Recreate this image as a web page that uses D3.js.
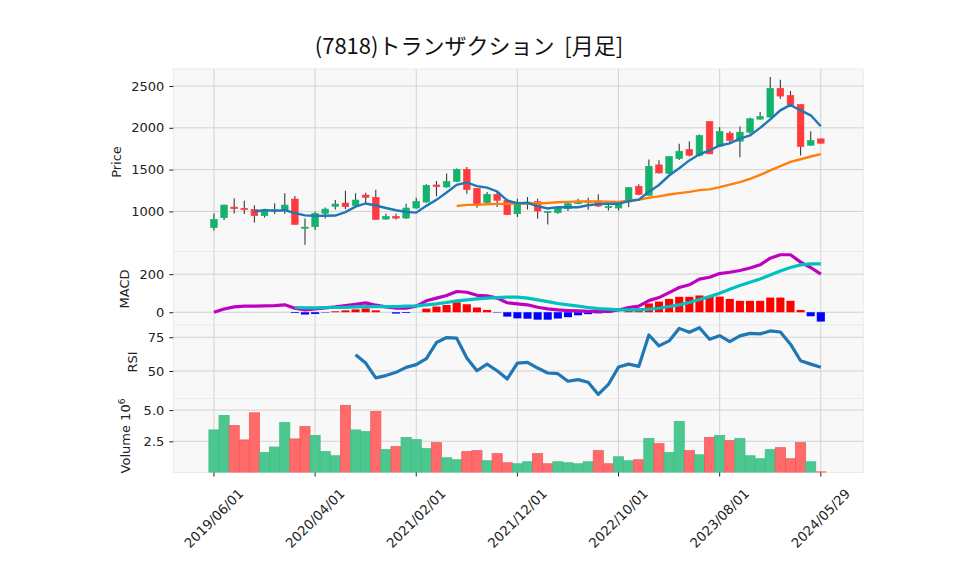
<!DOCTYPE html>
<html><head><meta charset="utf-8">
<script src="https://cdn.jsdelivr.net/npm/d3@7"></script>
<style>
html,body{margin:0;padding:0;background:#fff;}
svg{display:block;}
</style></head>
<body>
<svg id="chart" width="958" height="575"></svg>
<script>
// ---- data (monthly bars, index 0 = 2019/06, index 60 = 2024/05/29) ----
const tickIndex  = [0, 10, 20, 30, 40, 50, 60];
const tickLabels = ["2019/06/01","2020/04/01","2021/02/01","2021/12/01","2022/10/01","2023/08/01","2024/05/29"];

const open  = [805,924,1052,1036,1024,948,1004,1008,1148,808,816,976,1060,1100,1072,1196,1168,908,940,920,1040,1112,1316,1292,1360,1504,1276,1104,1204,1132,972,1092,1116,988,984,1032,1092,1108,1124,1048,1040,1112,1300,1192,1556,1456,1632,1740,1668,2076,1780,1936,1840,1948,2104,2128,2472,2388,2280,1792,1868];
const high  = [975,1080,1156,1128,1072,1024,1096,1216,1184,916,996,1048,1136,1248,1216,1224,1260,972,972,1092,1164,1324,1364,1452,1512,1532,1276,1232,1232,1152,1152,1172,1152,1000,1052,1100,1152,1164,1204,1092,1100,1292,1324,1620,1612,1660,1808,1840,1920,2076,2008,1960,2016,2120,2188,2608,2576,2440,2280,1960,1870];
const low   = [770,896,976,968,868,928,968,972,844,600,776,916,1024,1028,1056,1096,900,900,904,912,1032,1104,1180,1284,1352,1212,1044,1100,1052,960,932,1024,912,844,972,1004,1084,1020,1052,1012,1012,1052,1192,1192,1452,1448,1616,1656,1656,1688,1776,1808,1648,1928,2096,2128,2348,2248,1668,1788,1808];
const close = [904,1076,1032,1020,948,1008,1020,1076,844,812,976,1028,1088,1056,1136,1168,904,940,920,1040,1120,1312,1296,1360,1504,1260,1092,1204,1132,960,1100,1112,1004,1000,1040,1092,1116,1124,1064,1058,1092,1284,1204,1540,1460,1656,1720,1672,1908,1688,1956,1848,1948,2108,2136,2472,2380,2276,1776,1848,1816];
// volume in millions (x10^6)
const volume = [3.41,4.57,3.76,2.61,4.78,1.59,2.04,4.0,2.69,3.68,2.96,1.67,1.34,5.38,3.41,3.28,4.89,1.83,2.07,2.80,2.63,1.91,2.39,1.18,1.02,1.67,1.75,0.94,1.51,0.78,0.70,0.86,1.51,0.70,0.86,0.78,0.70,0.86,1.75,0.70,1.26,0.94,1.02,2.72,2.31,1.59,4.09,1.75,1.42,2.80,2.96,2.55,2.72,1.34,1.10,1.83,1.99,1.10,2.39,0.86,0.05];

// moving averages (5 and 25 months), values start at index 4 and 24
const ma5Start = 4;
const ma5 = [996,1017,1006,1014,979,952,946,947,950,992,1057,1095,1070,1041,1014,994,985,1066,1138,1226,1318,1346,1302,1284,1238,1130,1098,1102,1062,1035,1051,1050,1050,1074,1087,1091,1091,1124,1140,1236,1316,1429,1516,1610,1683,1729,1789,1814,1870,1910,1999,2102,2209,2274,2208,2150,2019];
const ma25Start = 24;
const ma25 = [1064,1078,1078,1085,1090,1090,1094,1098,1094,1101,1110,1114,1118,1119,1120,1117,1114,1129,1140,1164,1180,1202,1218,1233,1255,1263,1290,1321,1350,1389,1436,1491,1542,1593,1624,1657,1686];

// MACD panel
const macd = [0,17,28,32,32,33,35,39,21,12,17,23,28,35,42,49,37,28,21,21,32,60,74,88,109,105,89,86,74,50,44,39,26,18,12,9,7,5,5,4,12,25,32,61,77,103,130,144,174,184,203,210,219,232,249,284,302,302,263,235,200];
const signalStart = 8;
const signal = [25,23,23,25,25,26,28,30,30,30,30,32,33,39,44,51,60,65,70,74,77,79,79,74,65,56,46,39,32,25,19,16,12,12,12,16,21,30,39,51,67,82,100,121,140,158,175,196,217,235,249,254,254];
const histStart = 8;
const hist = [-4,-12,-9,-2,5,10,15,20,10,0,-7,-4,0,19,30,38,52,42,25,12,-2,-23,-32,-34,-39,-39,-33,-26,-16,-10,-6,-3,0,10,20,46,56,70,81,81,88,82,82,70,60,60,60,77,77,60,12,-21,-49];

// RSI panel
const rsiStart = 14;
const rsi = [62.0,55.9,44.9,46.6,49.0,52.7,54.7,59.1,71.1,74.8,74.3,59.6,50.2,55.1,50.2,44.1,55.9,56.4,52.2,48.5,48.0,42.4,43.6,41.7,32.6,40.0,52.9,55.1,53.4,76.7,68.6,72.3,81.6,78.7,82.1,73.5,76.2,71.8,76.0,77.9,77.5,79.7,78.9,69.9,57.6,55.1,52.7];

const priceTicks = [1000,1500,2000,2500];
const macdTicks = [0,200];
const rsiTicks = [50,75];
const volTicks = [2.5,5.0];

const title = "(7818)トランザクション  [月足]";

// ---- layout ----
const svg = d3.select("#chart");
const L = 173.3, R = 863.3;
const panels = {
  price:{top:69, bottom:251.5},
  macd:{top:251.5, bottom:325},
  rsi:{top:325, bottom:398.5},
  vol:{top:398.5, bottom:472.5}
};
const n = close.length;
const x = d3.scaleLinear().domain([-4.02, 64.2]).range([L, R]);
const step = x(1) - x(0);

const yP = d3.scaleLinear().domain([520, 2704]).range([panels.price.bottom, panels.price.top]);
const yM = d3.scaleLinear().domain([-67, 319]).range([panels.macd.bottom, panels.macd.top]);
const yR = d3.scaleLinear().domain([29.6, 84.1]).range([panels.rsi.bottom, panels.rsi.top]);
const yV = d3.scaleLinear().domain([0, 5.93]).range([panels.vol.bottom, panels.vol.top]);

const UP = "#13b36b", DOWN = "#ff3a3f";
const VUP = "#4cc790", VDOWN = "#ff6b6b";
const GRID = "#d2d2d2";
const FONT = "DejaVu Sans, sans-serif";

const defs = svg.append("defs");
Object.entries(panels).forEach(([k,p])=>{
  defs.append("clipPath").attr("id","clip-"+k).append("rect")
    .attr("x",L).attr("y",p.top).attr("width",R-L).attr("height",p.bottom-p.top);
});

function panel(key, yScale, ticks, fmt){
  const p = panels[key];
  const g = svg.append("g");
  g.append("rect").attr("x",L).attr("y",p.top).attr("width",R-L).attr("height",p.bottom-p.top)
    .attr("fill","#f8f8f8").attr("stroke","#ebebeb").attr("stroke-width",1);
  g.selectAll("line.vg").data(tickIndex).join("line")
    .attr("x1",d=>x(d)).attr("x2",d=>x(d)).attr("y1",p.top).attr("y2",p.bottom)
    .attr("stroke",GRID).attr("stroke-width",1);
  g.selectAll("line.hg").data(ticks).join("line")
    .attr("x1",L).attr("x2",R).attr("y1",d=>yScale(d)).attr("y2",d=>yScale(d))
    .attr("stroke",GRID).attr("stroke-width",1);
  const ax = d3.axisLeft(yScale).tickValues(ticks).tickFormat(fmt).tickSize(4).tickPadding(5);
  const ag = svg.append("g").attr("transform",`translate(${L},0)`).call(ax);
  ag.select(".domain").remove();
  ag.selectAll("text").attr("font-family",FONT).attr("font-size","13px").attr("fill","#222");
  ag.selectAll("line").attr("stroke","#222");
  return g;
}

panel("price", yP, priceTicks, d3.format("d"));
panel("macd", yM, macdTicks, d3.format("d"));
panel("rsi", yR, rsiTicks, d3.format("d"));
panel("vol", yV, volTicks, d3.format(".1f"));

// ---- candles ----
const idx = d3.range(n);
const gc = svg.append("g").attr("clip-path","url(#clip-price)");
gc.selectAll("line.wick").data(idx).join("line")
  .attr("x1",i=>x(i)).attr("x2",i=>x(i))
  .attr("y1",i=>yP(high[i])).attr("y2",i=>yP(low[i]))
  .attr("stroke","#3a3a3a").attr("stroke-width",1.1);
const bw = step*0.66;
gc.selectAll("rect.body").data(idx).join("rect")
  .attr("x",i=>x(i)-bw/2).attr("width",bw)
  .attr("y",i=>yP(Math.max(open[i],close[i])))
  .attr("height",i=>Math.max(1.2, Math.abs(yP(open[i])-yP(close[i]))))
  .attr("fill",i=>close[i]>=open[i]?UP:DOWN)
  .attr("stroke",i=>close[i]>=open[i]?UP:DOWN).attr("stroke-width",0.6);

const lineGen = d3.line().x(d=>x(d[0])).y(d=>yP(d[1]));
gc.append("path").datum(ma25.map((v,k)=>[k+ma25Start,v]))
  .attr("d",lineGen).attr("fill","none").attr("stroke","#ff7f0e").attr("stroke-width",2.4);
gc.append("path").datum(ma5.map((v,k)=>[k+ma5Start,v]))
  .attr("d",lineGen).attr("fill","none").attr("stroke","#1f77b4").attr("stroke-width",2.4);

// ---- MACD ----
const gm = svg.append("g").attr("clip-path","url(#clip-macd)");
const hw = step*0.8;
gm.selectAll("rect.h").data(hist.map((v,k)=>[k+histStart,v])).join("rect")
  .attr("x",d=>x(d[0])-hw/2).attr("width",hw)
  .attr("y",d=>yM(Math.max(0,d[1]))).attr("height",d=>Math.abs(yM(d[1])-yM(0)))
  .attr("fill",d=>d[1]>=0?"#ff0000":"#0000ff");
const lineM = d3.line().x(d=>x(d[0])).y(d=>yM(d[1]));
gm.append("path").datum(macd.map((v,k)=>[k,v]))
  .attr("d",lineM).attr("fill","none").attr("stroke","#c000c0").attr("stroke-width",3.2).attr("stroke-linejoin","round");
gm.append("path").datum(signal.map((v,k)=>[k+signalStart,v]))
  .attr("d",lineM).attr("fill","none").attr("stroke","#00c0c0").attr("stroke-width",3.2).attr("stroke-linejoin","round");

// ---- RSI ----
const gr = svg.append("g").attr("clip-path","url(#clip-rsi)");
gr.append("path").datum(rsi.map((v,k)=>[k+rsiStart,v]))
  .attr("d",d3.line().x(d=>x(d[0])).y(d=>yR(d[1])))
  .attr("fill","none").attr("stroke","#1f77b4").attr("stroke-width",3.2).attr("stroke-linejoin","round");

// ---- Volume ----
const gv = svg.append("g").attr("clip-path","url(#clip-vol)");
const volUp = i => i===0 ? true : close[i] >= close[i-1];
gv.selectAll("rect.v").data(idx).join("rect")
  .attr("x",i=>x(i)-step/2).attr("width",step)
  .attr("y",i=>yV(volume[i])).attr("height",i=>yV(0)-yV(volume[i]))
  .attr("fill",i=>volUp(i)?VUP:VDOWN)
  .attr("stroke",i=>volUp(i)?"#3fbf85":"#f45a5a").attr("stroke-width",0.8);

// ---- x axis ticks and labels ----
const xb = panels.vol.bottom;
svg.selectAll("line.xt").data(tickIndex).join("line")
  .attr("x1",d=>x(d)).attr("x2",d=>x(d)).attr("y1",xb).attr("y2",xb+4)
  .attr("stroke","#222");
svg.selectAll("text.xl").data(tickIndex).join("text")
  .attr("transform",(d)=>`translate(${x(d)},${xb+46}) rotate(-45)`)
  .attr("text-anchor","middle").attr("dominant-baseline","central")
  .attr("font-family",FONT).attr("font-size","13.3px").attr("fill","#222")
  .text((d,i)=>tickLabels[i]);

// ---- axis titles ----
function ylab(txt, cx, cy){
  return svg.append("text").attr("transform",`translate(${cx},${cy}) rotate(-90)`)
    .attr("text-anchor","middle").attr("font-family",FONT).attr("font-size","13px").attr("fill","#222")
    .text(txt);
}
ylab("Price", 121, 162);
ylab("MACD", 129, 289);
ylab("RSI", 137, 362);
const vl = svg.append("text").attr("transform",`translate(130,436) rotate(-90)`)
  .attr("text-anchor","middle").attr("font-family",FONT).attr("font-size","13px").attr("fill","#222");
vl.append("tspan").text("Volume  10");
vl.append("tspan").attr("baseline-shift","super").attr("font-size","9px").text("6");

// ---- title ----
svg.append("text").attr("x",469).attr("y",54).attr("text-anchor","middle")
  .attr("xml:space","preserve").style("white-space","pre")
  .attr("font-family","Noto Sans CJK JP, DejaVu Sans, sans-serif").attr("font-size","22px").attr("fill","#111")
  .text(title);
</script>
</body></html>
